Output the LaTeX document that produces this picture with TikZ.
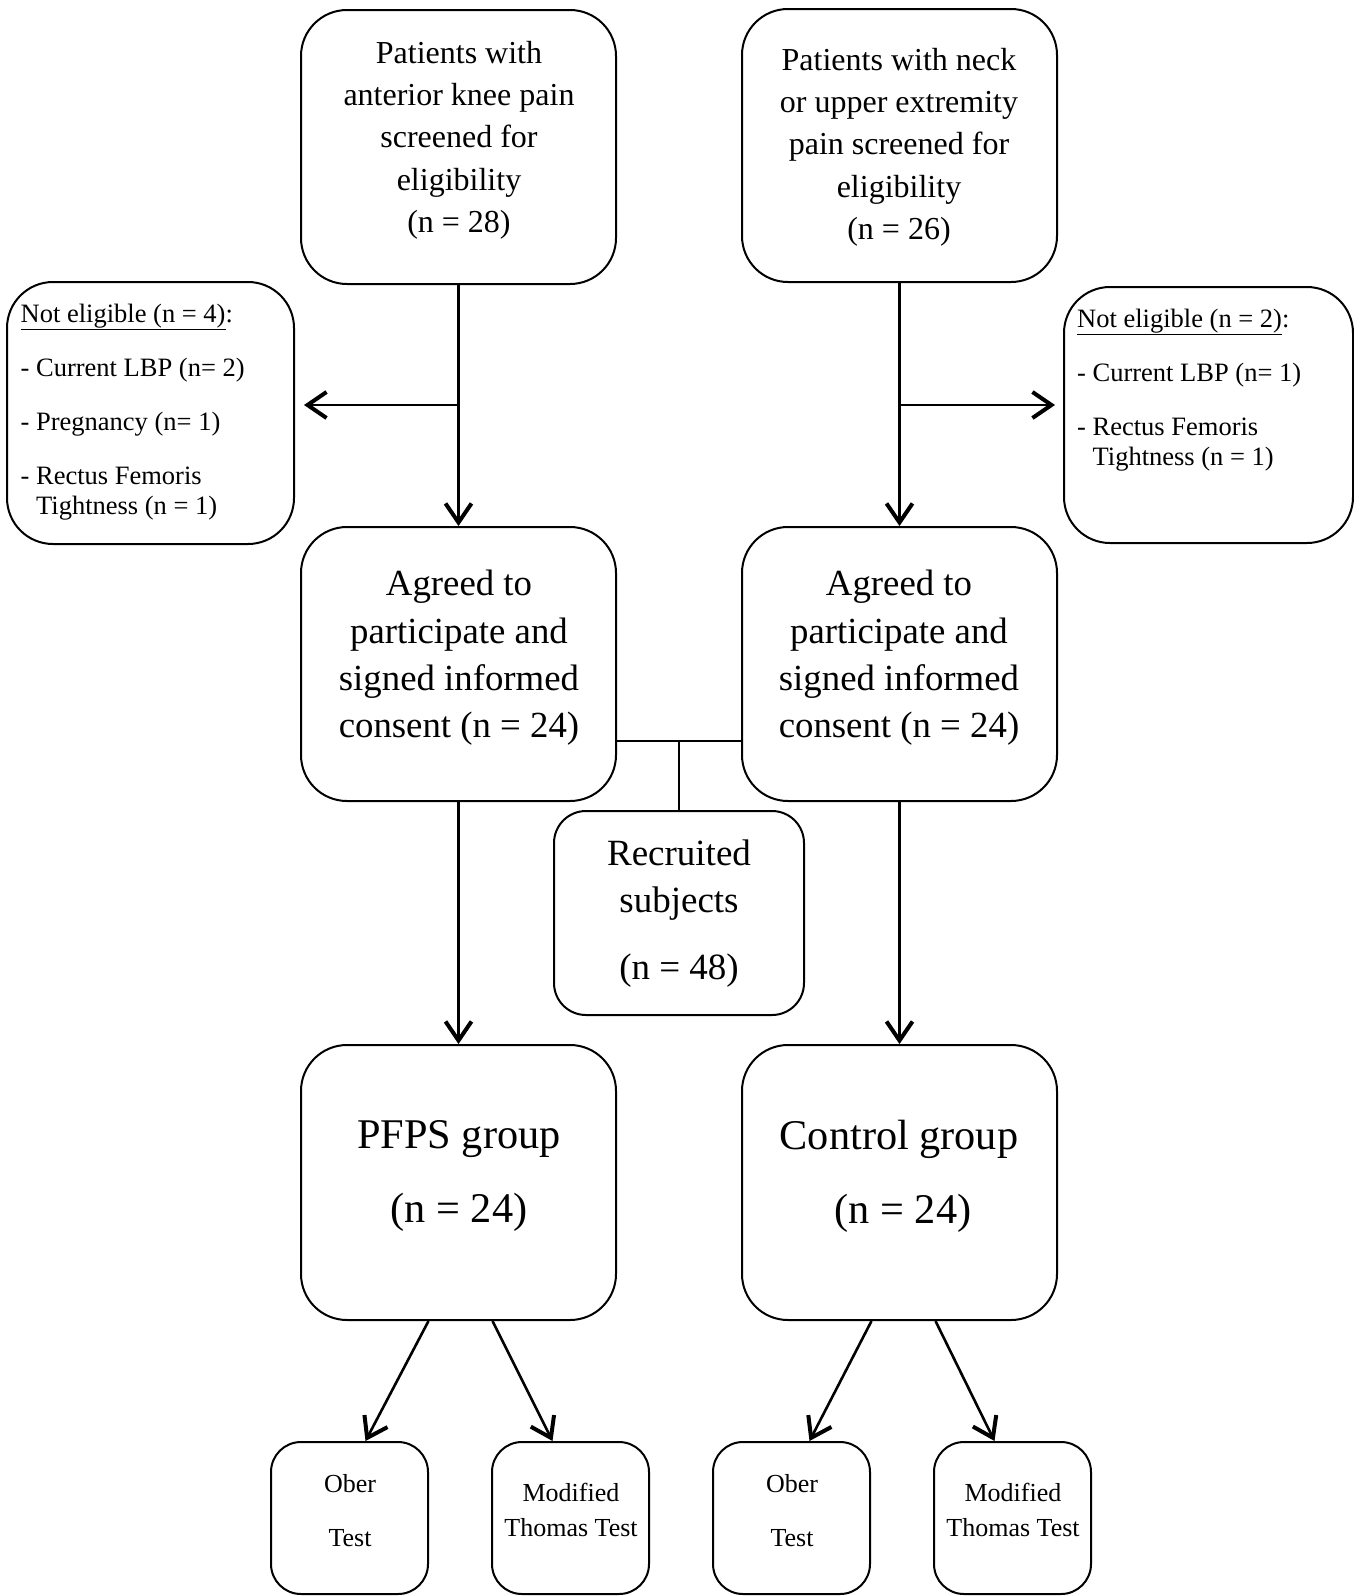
\documentclass[tikz,border=0pt]{standalone}
\usepackage{fontspec}
\setmainfont{Liberation Serif}
\usetikzlibrary{arrows.meta}
\begin{document}
\begin{tikzpicture}[x=1pt,y=-1pt,
  box/.style={draw,line width=2pt,rounded corners=#1,inner sep=0pt},
  box/.default=46pt,
  conn/.style={line width=2.6pt},
  arr/.style={conn,-{Straight Barb[length=19pt,width=26pt,line width=4pt]}},
  txt/.style={inner sep=0pt,align=center}]
\useasboundingbox (0,0) rectangle (1354,1596);

% boxes
\node[box,minimum width=315pt,minimum height=274pt] (tl) at (458.5,147) {};
\node[box,minimum width=315pt,minimum height=273pt] (tr) at (899.5,145.5) {};
\node[box,minimum width=287pt,minimum height=262pt] (nel) at (150.5,413) {};
\node[box,minimum width=289pt,minimum height=256pt] (ner) at (1208.5,415) {};
\node[box,minimum width=315pt,minimum height=274pt] (agl) at (458.5,664) {};
\node[box,minimum width=315pt,minimum height=274pt] (agr) at (899.5,664) {};
\node[box=32pt,minimum width=250pt,minimum height=204pt] (rec) at (679,913) {};
\node[box,minimum width=315pt,minimum height=275pt] (pfps) at (458.5,1182.5) {};
\node[box,minimum width=315pt,minimum height=275pt] (ctrl) at (899.5,1182.5) {};
\node[box=30pt,minimum width=157pt,minimum height=152pt] (ob1) at (349.5,1518) {};
\node[box=30pt,minimum width=157pt,minimum height=152pt] (mt1) at (570.5,1518) {};
\node[box=30pt,minimum width=157pt,minimum height=152pt] (ob2) at (791.5,1518) {};
\node[box=30pt,minimum width=157pt,minimum height=152pt] (mt2) at (1012.5,1518) {};

% texts
\node[txt,font=\fontsize{32}{42.3}\selectfont] (tlt) at (459,140) {Patients with\\anterior knee pain\\screened for\\eligibility\\(n = 28)};
\node[txt,font=\fontsize{32}{42.3}\selectfont] (trt) at (899,147) {Patients with neck\\or upper extremity\\pain screened for\\eligibility\\(n = 26)};
\node[txt,align=left,anchor=west,font=\fontsize{26.5}{30}\selectfont] (nelt) at (20.5,412) {\underline{Not eligible (n = 4)}:\\[24pt]- Current LBP (n= 2)\\[24pt]- Pregnancy (n= 1)\\[24pt]- Rectus Femoris\\\phantom{- }Tightness (n = 1)};
\node[txt,align=left,anchor=west,font=\fontsize{26.5}{30}\selectfont] (nert) at (1077,390) {\underline{Not eligible (n = 2)}:\\[24pt]- Current LBP (n= 1)\\[24pt]- Rectus Femoris\\\phantom{- }Tightness (n = 1)};
\node[txt,font=\fontsize{36.8}{47.3}\selectfont] (aglt) at (459,658) {Agreed to\\participate and\\signed informed\\consent (n = 24)};
\node[txt,font=\fontsize{36.8}{47.3}\selectfont] (agrt) at (899,658) {Agreed to\\participate and\\signed informed\\consent (n = 24)};
\node[txt,font=\fontsize{37}{47}\selectfont] (rect) at (679,914) {Recruited\\subjects\\[20pt](n = 48)};
\node[txt,font=\fontsize{42.3}{43}\selectfont] (pfpst) at (459,1176) {PFPS group\\[31pt](n = 24)};
\node[txt,font=\fontsize{42.3}{43}\selectfont] (ctrlt) at (899,1176) {Control group\\[31pt]\hspace*{8pt}(n = 24)};
\node[txt,font=\fontsize{26}{54}\selectfont] (ob1t) at (350,1511) {Ober\\Test};
\node[txt,font=\fontsize{26}{35}\selectfont] (mt1t) at (571,1510) {Modified\\Thomas Test};
\node[txt,font=\fontsize{26}{54}\selectfont] (ob2t) at (792,1511) {Ober\\Test};
\node[txt,font=\fontsize{26}{35}\selectfont] (mt2t) at (1013,1510) {Modified\\Thomas Test};

% connectors
\coordinate (bl) at (tl.south |- 0,405);
\coordinate (br) at (tr.south |- 0,405);
\draw[arr] (tl) -- (agl);
\draw[arr] (tr) -- (agr);
\draw[arr,shorten >=9pt] (bl) -- (nel.east |- bl);
\draw[arr,shorten >=8pt] (br) -- (ner.west |- br);

\coordinate (jl) at (agl.east |- 0,741);
\coordinate (jr) at (agr.west |- 0,741);
\coordinate (mj) at (rec.north |- 0,741);
\draw[conn] (jl) -- (jr);
\draw[conn] (mj) -- (rec.north);

\draw[arr] (agl) -- (pfps);
\draw[arr] (agr) -- (ctrl);

\draw[arr] ([xshift=-30pt]pfps.south) -- ([xshift=16pt]ob1.north);
\draw[arr] ([xshift=34pt]pfps.south) -- ([xshift=-18pt]mt1.north);
\draw[arr] ([xshift=-28pt]ctrl.south) -- ([xshift=18pt]ob2.north);
\draw[arr] ([xshift=36pt]ctrl.south) -- ([xshift=-18pt]mt2.north);
\end{tikzpicture}
\end{document}
